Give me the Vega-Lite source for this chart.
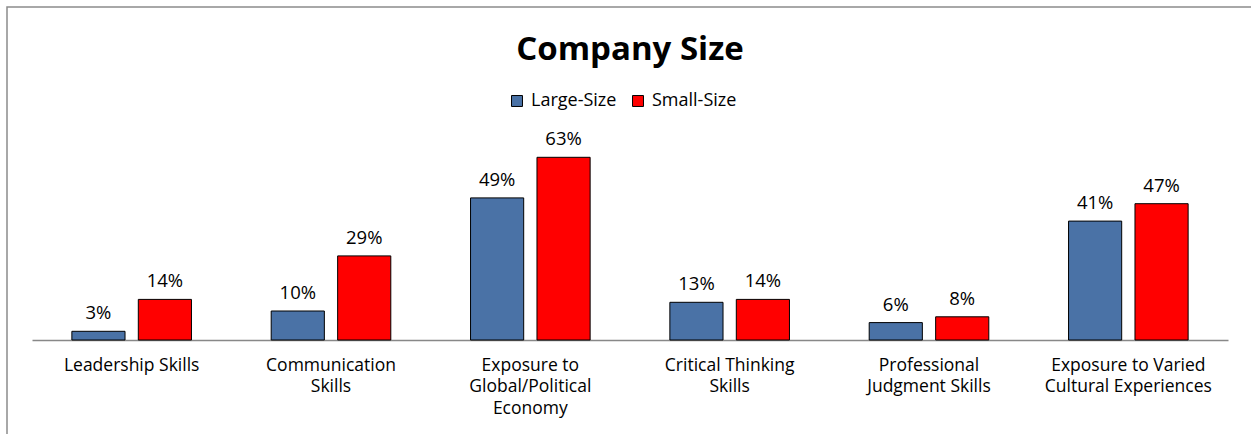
{
  "$schema": "https://vega.github.io/schema/vega-lite/v6.json",
  "width": 1260,
  "height": 440,
  "autosize": "none",
  "padding": {"left": 7, "top": 7, "right": 0, "bottom": 0},
  "background": "white",
  "config": {"view": {"stroke": "#8c8c8c", "strokeWidth": 1.5}, "font": "Open Sans"},
  "title": {"text": "Company Size", "fontSize": 33, "font": "Open Sans", "fontWeight": "bold", "color": "black", "anchor": "middle", "offset": -60, "dx": -7},
  "data": {"values": [
    {"skill": "Leadership Skills", "size": "Large-Size", "pct": 0.03},
    {"skill": "Leadership Skills", "size": "Small-Size", "pct": 0.14},
    {"skill": "Communication|Skills", "size": "Large-Size", "pct": 0.10},
    {"skill": "Communication|Skills", "size": "Small-Size", "pct": 0.29},
    {"skill": "Exposure to|Global/Political|Economy", "size": "Large-Size", "pct": 0.49},
    {"skill": "Exposure to|Global/Political|Economy", "size": "Small-Size", "pct": 0.63},
    {"skill": "Critical Thinking|Skills", "size": "Large-Size", "pct": 0.13},
    {"skill": "Critical Thinking|Skills", "size": "Small-Size", "pct": 0.14},
    {"skill": "Professional|Judgment Skills", "size": "Large-Size", "pct": 0.06},
    {"skill": "Professional|Judgment Skills", "size": "Small-Size", "pct": 0.08},
    {"skill": "Exposure to Varied|Cultural Experiences", "size": "Large-Size", "pct": 0.41},
    {"skill": "Exposure to Varied|Cultural Experiences", "size": "Small-Size", "pct": 0.47}
  ]},
  "encoding": {
    "x": {
      "field": "skill", "type": "nominal", "sort": null,
      "scale": {"range": [25, 1221], "paddingInner": 0.4, "paddingOuter": 0.2},
      "axis": {
        "title": null, "orient": "bottom", "offset": -107,
        "domainColor": "#888888", "domainWidth": 1.5, "ticks": false,
        "labelAngle": 0, "labelFontSize": 17.5, "labelColor": "black", "labelFont": "Open Sans",
        "labelPadding": 16, "labelLineHeight": 21.5, "labelLimit": 0,
        "labelExpr": "split(datum.label, '|')"
      }
    },
    "xOffset": {"field": "size", "type": "nominal", "scale": {"paddingInner": 0.2, "paddingOuter": 0}},
    "y": {"field": "pct", "type": "quantitative", "scale": {"domain": [0, 0.7], "range": [333, 130], "nice": false}, "axis": null}
  },
  "layer": [
    {
      "mark": {"type": "bar", "stroke": "black", "strokeWidth": 1},
      "encoding": {
        "color": {
          "field": "size", "type": "nominal",
          "scale": {"domain": ["Large-Size", "Small-Size"], "range": ["#4a72a6", "#ff0000"]},
          "legend": {
            "title": null, "orient": "none", "legendX": 501, "legendY": 85, "direction": "horizontal",
            "symbolType": "square", "symbolSize": 120, "symbolStrokeWidth": 1, "symbolStrokeColor": "black", "symbolOpacity": 1,
            "labelFontSize": 18, "labelFont": "Open Sans", "labelColor": "black", "labelOffset": 5, "columnPadding": 12
          }
        }
      }
    },
    {
      "mark": {"type": "text", "dy": -8, "fontSize": 18.5, "baseline": "bottom", "color": "black", "font": "Open Sans"},
      "encoding": {"text": {"field": "pct", "type": "quantitative", "format": ".0%"}}
    }
  ]
}
